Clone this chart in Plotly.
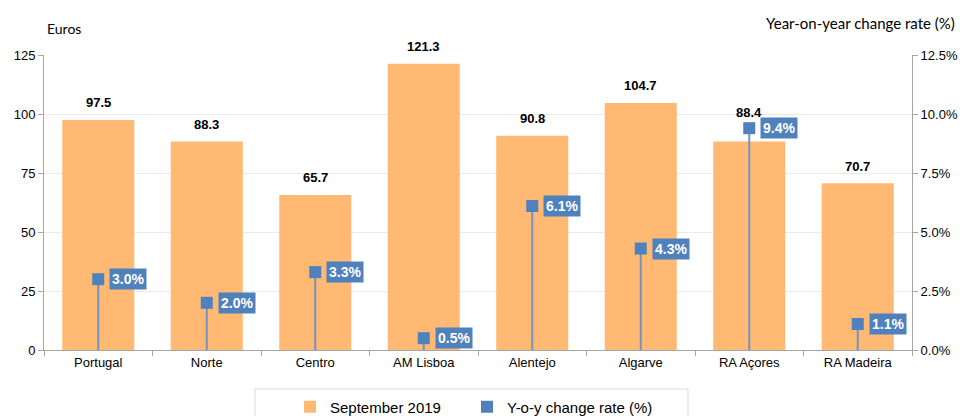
import plotly.graph_objects as go

regions = ["Portugal", "Norte", "Centro", "AM Lisboa", "Alentejo", "Algarve", "RA Açores", "RA Madeira"]
revenue_sep2019 = [97.5, 88.3, 65.7, 121.3, 90.8, 104.7, 88.4, 70.7]
yoy_change = [3.0, 2.0, 3.3, 0.5, 6.1, 4.3, 9.4, 1.1]
left_ticks = [0, 25, 50, 75, 100, 125]
right_ticks = [0, 2.5, 5.0, 7.5, 10.0, 12.5]

ORANGE = "#FFB973"
BLUE = "#4F81BD"
STEM = "#7393C3"
FONT = "Liberation Sans, Arial, sans-serif"

# extra lift (px) for a bar label that would collide with its rate box
label_lift = {"RA Açores": 12}

# plot area spans x 44..912, y 55..350 in pixels
def px(xp):
    return (xp - 44) / 868

def py(yp):
    return (350 - yp) / 295

fig = go.Figure()
fig.add_trace(go.Bar(
    x=regions, y=revenue_sep2019, name="September 2019",
    marker=dict(color=ORANGE, line=dict(width=0)),
    legend="legend",
))
fig.add_trace(go.Scatter(
    x=regions, y=yoy_change, name="Y-o-y change rate (%)", yaxis="y2",
    mode="markers",
    marker=dict(symbol="square", size=12, color=BLUE),
    error_y=dict(type="data", symmetric=False, array=[0]*len(yoy_change),
                 arrayminus=yoy_change, thickness=2, width=0, color=STEM),
    cliponaxis=False,
    legend="legend2",
))

for r, v in zip(regions, revenue_sep2019):
    fig.add_annotation(
        x=r, y=v, xref="x", yref="y", text=f"<b>{v:.1f}</b>",
        showarrow=False, xanchor="center", yanchor="middle",
        yshift=17 + label_lift.get(r, 0),
        font=dict(color="black", size=13, family=FONT),
    )

for r, v in zip(regions, yoy_change):
    fig.add_annotation(
        x=r, y=v, yref="y2", xref="x", text=f"<b>{v:.1f}%</b>",
        showarrow=False, xanchor="left", yanchor="middle", xshift=11,
        bgcolor=BLUE, borderpad=2,
        font=dict(color="white", size=14, family=FONT),
    )

fig.add_annotation(x=px(45), xref="paper", y=py(28), yref="paper", text="Euros",
                   showarrow=False, xanchor="left", yanchor="middle",
                   font=dict(size=14, color="black", family="Lato, sans-serif"))
fig.add_annotation(x=px(957), xref="paper", y=py(23), yref="paper",
                   text="Year-on-year change rate (%)",
                   showarrow=False, xanchor="right", yanchor="middle",
                   font=dict(size=15, color="black", family="Lato, sans-serif"))

# legend frame
fig.add_shape(type="rect", xref="paper", yref="paper",
              x0=px(255), x1=px(688), y0=py(430), y1=py(389),
              line=dict(color="#D9D9D9", width=1), fillcolor="rgba(0,0,0,0)")

leg_common = dict(orientation="h", xanchor="left", yanchor="middle",
                  font=dict(size=15, family=FONT), itemsizing="constant",
                  bgcolor="rgba(0,0,0,0)")

fig.update_layout(
    width=962, height=416,
    margin=dict(l=44, r=50, t=55, b=66, autoexpand=False),
    paper_bgcolor="white", plot_bgcolor="white",
    bargap=0.336,
    font=dict(family=FONT, size=13, color="black"),
    showlegend=True,
    legend=dict(x=px(290), y=py(407), **leg_common),
    legend2=dict(x=px(467), y=py(407), **leg_common),
    xaxis=dict(type="category", showline=True, linecolor="#A6A6A6", linewidth=1,
               ticks="outside", tickson="boundaries", ticklen=5, tickcolor="#A6A6A6",
               showgrid=False, tickfont=dict(size=13), automargin=False),
    yaxis=dict(range=[0, 125], tickvals=left_ticks, showline=True, linecolor="#A6A6A6",
               ticks="outside", ticklen=5, tickcolor="#A6A6A6", automargin=False,
               showgrid=True, gridcolor="#EBEBEB", zeroline=False, tickfont=dict(size=13)),
    yaxis2=dict(range=[0, 12.5], tickvals=right_ticks,
                ticktext=[f"{t:.1f}%" for t in right_ticks],
                overlaying="y", side="right", showline=True, linecolor="#A6A6A6",
                ticks="outside", ticklen=5, tickcolor="#A6A6A6", automargin=False,
                showgrid=False, zeroline=False, tickfont=dict(size=13)),
)

fig.write_html("out.html")
